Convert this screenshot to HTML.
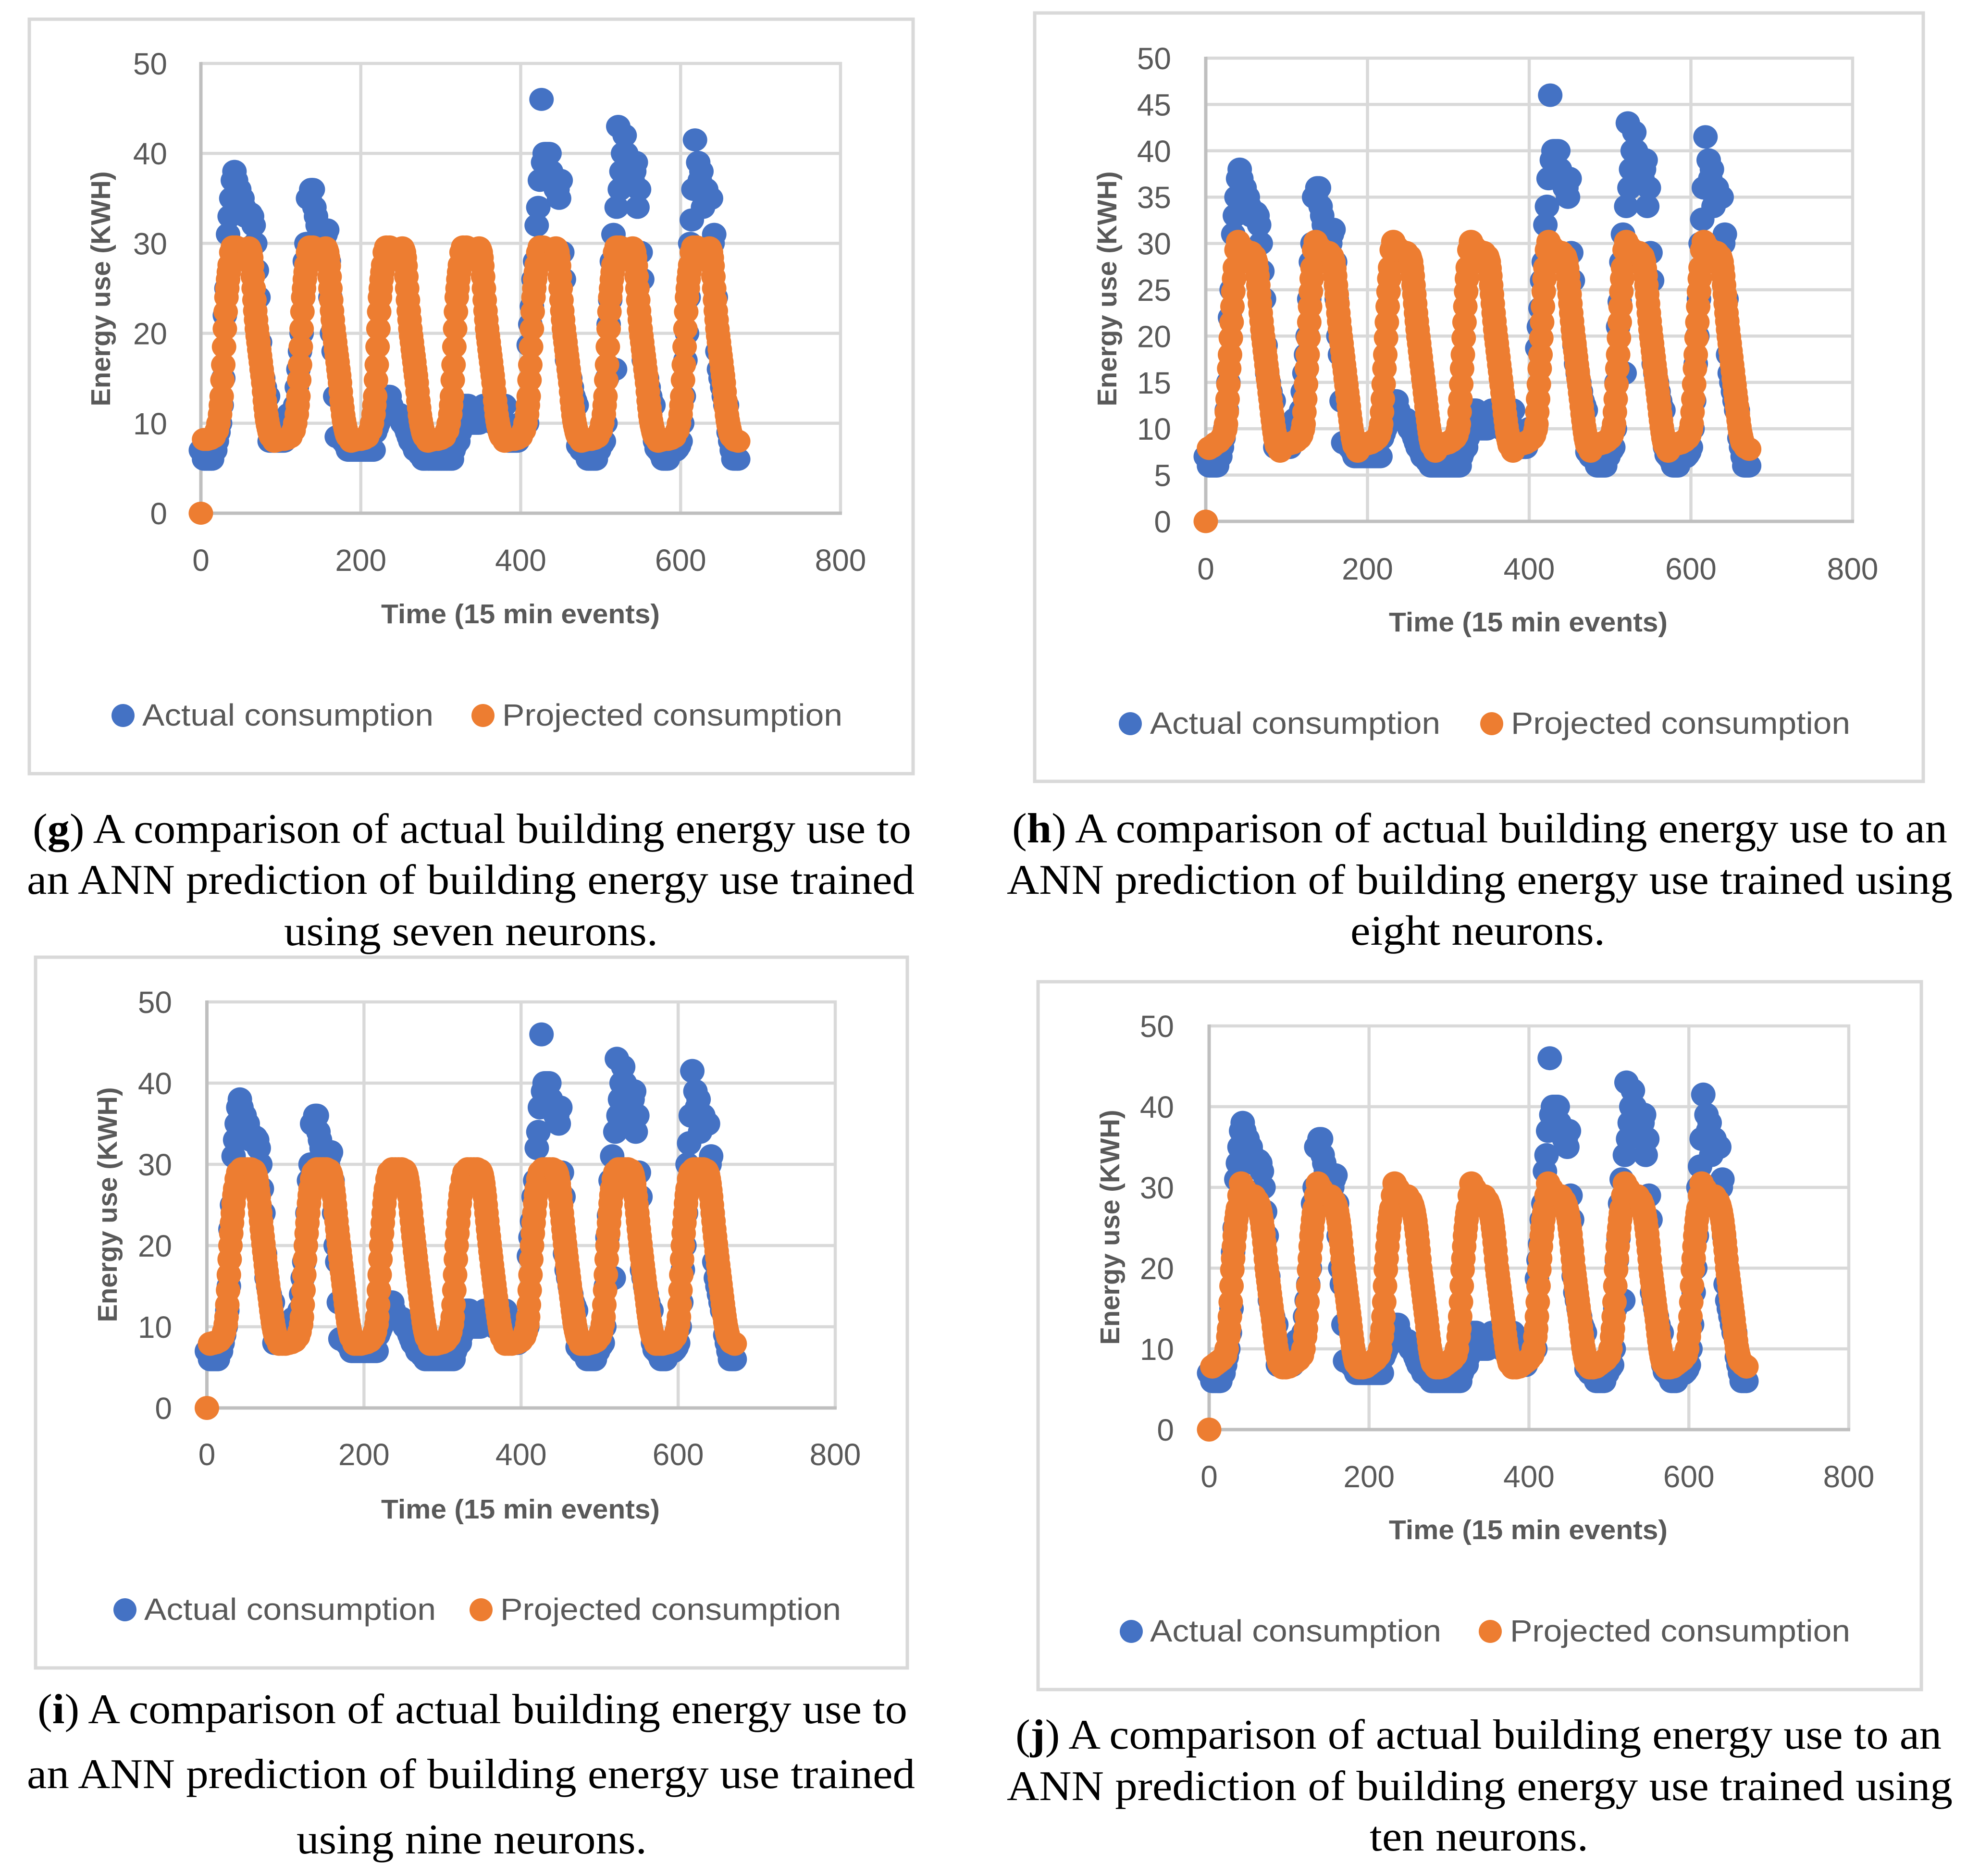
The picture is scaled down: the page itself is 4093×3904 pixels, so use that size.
<!DOCTYPE html>
<html lang="en">
<head>
<meta charset="utf-8">
<title>Actual vs projected building energy use</title>
<style>
html,body{margin:0;padding:0;background:#fff;width:4093px;height:3904px;overflow:hidden}
svg{display:block}
.leg{font-family:"Liberation Sans",sans-serif;font-size:64px;fill:#595959}
.cap{font-family:"Liberation Serif",serif;font-size:88px;fill:#000}
.cap tspan{font-weight:bold}
.tick{font-family:"Liberation Sans",sans-serif;font-size:64px;fill:#595959}
.ttl{font-family:"Liberation Sans",sans-serif;font-size:57px;font-weight:bold;fill:#595959}
</style>
</head>
<body>
<svg id="page" xmlns="http://www.w3.org/2000/svg" width="4093" height="3904" viewBox="0 0 4093 3904">
<rect width="4093" height="3904" fill="#fff"/>
<g id="chart-g"></g>
<g id="chart-h"></g>
<g id="chart-i"></g>
<g id="chart-j"></g>

<g>
<ellipse cx="256" cy="1489" rx="24" ry="24" fill="#4472c4"/>
<text class="leg" x="296" y="1510" textLength="606" lengthAdjust="spacingAndGlyphs">Actual consumption</text>
<ellipse cx="1005" cy="1489" rx="24" ry="24" fill="#ed7d31"/>
<text class="leg" x="1045" y="1510" textLength="708" lengthAdjust="spacingAndGlyphs">Projected consumption</text>
</g>
<g>
<ellipse cx="2352" cy="1506" rx="24" ry="24" fill="#4472c4"/>
<text class="leg" x="2393" y="1527" textLength="604" lengthAdjust="spacingAndGlyphs">Actual consumption</text>
<ellipse cx="3104" cy="1506" rx="24" ry="24" fill="#ed7d31"/>
<text class="leg" x="3144" y="1527" textLength="706" lengthAdjust="spacingAndGlyphs">Projected consumption</text>
</g>
<g>
<ellipse cx="260" cy="3350" rx="24" ry="24" fill="#4472c4"/>
<text class="leg" x="300" y="3371" textLength="607" lengthAdjust="spacingAndGlyphs">Actual consumption</text>
<ellipse cx="1001" cy="3350" rx="24" ry="24" fill="#ed7d31"/>
<text class="leg" x="1041" y="3371" textLength="709" lengthAdjust="spacingAndGlyphs">Projected consumption</text>
</g>
<g>
<ellipse cx="2354" cy="3395" rx="24" ry="24" fill="#4472c4"/>
<text class="leg" x="2393" y="3416" textLength="606" lengthAdjust="spacingAndGlyphs">Actual consumption</text>
<ellipse cx="3101" cy="3395" rx="24" ry="24" fill="#ed7d31"/>
<text class="leg" x="3142" y="3416" textLength="708" lengthAdjust="spacingAndGlyphs">Projected consumption</text>
</g>

<g>
<text class="cap" x="68" y="1754" textLength="1828" lengthAdjust="spacingAndGlyphs">(<tspan>g</tspan>) A comparison of actual building energy use to</text>
<text class="cap" x="56" y="1860" textLength="1847" lengthAdjust="spacingAndGlyphs">an ANN prediction of building energy use trained</text>
<text class="cap" x="591" y="1967" textLength="778" lengthAdjust="spacingAndGlyphs">using seven neurons.</text>
</g>
<g>
<text class="cap" x="2106" y="1753" textLength="1946" lengthAdjust="spacingAndGlyphs">(<tspan>h</tspan>) A comparison of actual building energy use to an</text>
<text class="cap" x="2095" y="1860" textLength="1968" lengthAdjust="spacingAndGlyphs">ANN prediction of building energy use trained using</text>
<text class="cap" x="2810" y="1966" textLength="530" lengthAdjust="spacingAndGlyphs">eight neurons.</text>
</g>
<g>
<text class="cap" x="78" y="3586" textLength="1810" lengthAdjust="spacingAndGlyphs">(<tspan>i</tspan>) A comparison of actual building energy use to</text>
<text class="cap" x="56" y="3721" textLength="1848" lengthAdjust="spacingAndGlyphs">an ANN prediction of building energy use trained</text>
<text class="cap" x="617" y="3857" textLength="729" lengthAdjust="spacingAndGlyphs">using nine neurons.</text>
</g>
<g>
<text class="cap" x="2113" y="3639" textLength="1927" lengthAdjust="spacingAndGlyphs">(<tspan>j</tspan>) A comparison of actual building energy use to an</text>
<text class="cap" x="2095" y="3746" textLength="1968" lengthAdjust="spacingAndGlyphs">ANN prediction of building energy use trained using</text>
<text class="cap" x="2850" y="3851" textLength="455" lengthAdjust="spacingAndGlyphs">ten neurons.</text>
</g>
</svg>

<script>
// Category axis for the actual series: one reading every two 15-min events (0..672).
const actualStep = 2;
const actualValues = [
7,7,6,6,6,6,6,6,7,7,8,9,10,12,15,22,25,31,33,35,37,38,37,36,36,35,35,34,33,33,33,33.3,33,32,30,27,24,19,16,15,14,13,13,8,8,8,8,8,
8,8,8,8,8,9,9,11,10,11,11,12,14,16,18,20,24,28,30,35,35,36,36,34,33,32,31,30,29,30,31,31.5,28,24,20,18,13,8.5,8.5,8.5,8.5,8,8,7.5,7,7,7,7,
7,7,7,7,7,7,7,7,7,7,7,7,7,9,9.5,10,10.5,11,11,11.5,12,13,13,12,11,11,11,11,11,10.5,10,10,9.5,9,8.5,8,8,7.5,7,7,7,6.5,6.5,6,6,6,6,6,
6,6,6,6,6,6,6,6,6,6,6,6,6,6,7,7.5,8,8,9,10,11,12,12,12,11,10,10,10,10,10,10,11,11,12,12,12,11,11,11,10,10,11,12,12,11.7,12,12,10,
8,8,8,8,8,8,8,9,10,10,9.5,10,10,18.7,21,23,26,28,32,34,37,46,39,40,40,40,40,38,37,37,36,36,35,37,29,26,19,17,16,15,14,13,12.5,12,7.5,7.5,7,7,
7,6.5,6,6,6,6,6,6,7,7,7.5,7.7,8,10,15,21,23.7,28,31,16,34,43,36,38,40,42,40,38,38,37,37,38,39,34,36,29,26,17,16,15,14,13,12.3,12,8,7.2,7,7,
6.5,6,6,6,6,6.5,7,7,7,7,7.2,7.5,8,10,13,17,20,24,30,32.6,36,41.5,36,39,37,38,34,35,36,35,35,35,30,31,24,18,16,15,14,13,12,12,9,8,7,6,6,6,6
];

// Times within each daily cycle (15-min events) at which the projected series was read.
const projectedCycleTimes = [0,4,8,12,16,20,22,24,25,26,27,28,29,30,31,32,33,34,35,36,38,40,44,48,52,56,60,61,62,63,64,65,66,67,68,69,70,71,72,73,74,75,76,77,78,79,80,81,82,83,84,85,86,87,88,92];
const cycleLength = 96;
const lastTime = 672;

const projectedSeven = [
0,8.2,8.2,8.3,8.5,9.2,10,11,12,13,14.8,16.5,18.5,20.5,22.4,24,25,26,26.8,27.6,29,29.6,29.6,29.3,29.2,29.4,29.5,29.3,29,28.4,27.5,26.3,25,23.7,22.5,21.5,20.5,19.7,19,18.2,17.5,16.8,16,15.3,14.5,13.5,12.5,11.7,10.9,10.3,9.8,9.4,9,8.7,8.5,8,
8.1,8.2,8.2,8.3,8.5,9.2,10,11,12,13,14.8,16.5,18.5,20.5,22.4,24,25,26,26.8,27.6,29,29.6,29.6,29.3,29.2,29.4,29.5,29.3,29,28.4,27.5,26.3,25,23.7,22.5,21.5,20.5,19.7,19,18.2,17.5,16.8,16,15.3,14.5,13.5,12.5,11.7,10.9,10.3,9.8,9.4,9,8.7,8.5,8,
8.1,8.2,8.2,8.3,8.5,9.2,10,11,12,13,14.8,16.5,18.5,20.5,22.4,24,25,26,26.8,27.6,29,29.6,29.6,29.3,29.2,29.4,29.5,29.3,29,28.4,27.5,26.3,25,23.7,22.5,21.5,20.5,19.7,19,18.2,17.5,16.8,16,15.3,14.5,13.5,12.5,11.7,10.9,10.3,9.8,9.4,9,8.7,8.5,8,
8.1,8.2,8.2,8.3,8.5,9.2,10,11,12,13,14.8,16.5,18.5,20.5,22.4,24,25,26,26.8,27.6,29,29.6,29.6,29.3,29.2,29.4,29.5,29.3,29,28.4,27.5,26.3,25,23.7,22.5,21.5,20.5,19.7,19,18.2,17.5,16.8,16,15.3,14.5,13.5,12.5,11.7,10.9,10.3,9.8,9.4,9,8.7,8.5,8,
8.1,8.2,8.2,8.3,8.5,9.2,10,11,12,13,14.8,16.5,18.5,20.5,22.4,24,25,26,26.8,27.6,29,29.6,29.6,29.3,29.2,29.4,29.5,29.3,29,28.4,27.5,26.3,25,23.7,22.5,21.5,20.5,19.7,19,18.2,17.5,16.8,16,15.3,14.5,13.5,12.5,11.7,10.9,10.3,9.8,9.4,9,8.7,8.5,8,
8.1,8.2,8.2,8.3,8.5,9.2,10,11,12,13,14.8,16.5,18.5,20.5,22.4,24,25,26,26.8,27.6,29,29.6,29.6,29.3,29.2,29.4,29.5,29.3,29,28.4,27.5,26.3,25,23.7,22.5,21.5,20.5,19.7,19,18.2,17.5,16.8,16,15.3,14.5,13.5,12.5,11.7,10.9,10.3,9.8,9.4,9,8.7,8.5,8,
8.1,8.2,8.2,8.3,8.5,9.2,10,11,12,13,14.8,16.5,18.5,20.5,22.4,24,25,26,26.8,27.6,29,29.6,29.6,29.3,29.2,29.4,29.5,29.3,29,28.4,27.5,26.3,25,23.7,22.5,21.5,20.5,19.7,19,18.2,17.5,16.8,16,15.3,14.5,13.5,12.5,11.7,10.9,10.3,9.8,9.4,9,8.7,8.5,8.1,
8
];
const projectedEight = [
0,7.9,8.1,8.4,8.6,9,9.3,9.9,10.5,11.8,13.2,14.8,16.5,18,19.8,21.5,23.2,24.8,26.2,27.4,29.3,30.2,29.6,29.2,29.1,29,28.6,28.3,28,27.3,26.5,25.5,24.5,23.5,22.5,21.6,20.7,19.9,19.2,18.4,17.7,16.9,16.2,15.4,14.7,13.9,13.2,12.4,11.6,10.9,10.2,9.6,9,8.6,8.2,7.6,
8.2,8.3,8.4,8.5,8.7,9,9.3,9.9,10.5,11.8,13.2,14.8,16.5,18,19.8,21.5,23.2,24.8,26.2,27.4,29.3,30.2,29.6,29.2,29.1,29,28.6,28.3,28,27.3,26.5,25.5,24.5,23.5,22.5,21.6,20.7,19.9,19.2,18.4,17.7,16.9,16.2,15.4,14.7,13.9,13.2,12.4,11.6,10.9,10.2,9.6,9,8.6,8.2,7.6,
8.2,8.3,8.4,8.5,8.7,9,9.3,9.9,10.5,11.8,13.2,14.8,16.5,18,19.8,21.5,23.2,24.8,26.2,27.4,29.3,30.2,29.6,29.2,29.1,29,28.6,28.3,28,27.3,26.5,25.5,24.5,23.5,22.5,21.6,20.7,19.9,19.2,18.4,17.7,16.9,16.2,15.4,14.7,13.9,13.2,12.4,11.6,10.9,10.2,9.6,9,8.6,8.2,7.6,
8.2,8.3,8.4,8.5,8.7,9,9.3,9.9,10.5,11.8,13.2,14.8,16.5,18,19.8,21.5,23.2,24.8,26.2,27.4,29.3,30.2,29.6,29.2,29.1,29,28.6,28.3,28,27.3,26.5,25.5,24.5,23.5,22.5,21.6,20.7,19.9,19.2,18.4,17.7,16.9,16.2,15.4,14.7,13.9,13.2,12.4,11.6,10.9,10.2,9.6,9,8.6,8.2,7.6,
8.2,8.3,8.4,8.5,8.7,9,9.3,9.9,10.5,11.8,13.2,14.8,16.5,18,19.8,21.5,23.2,24.8,26.2,27.4,29.3,30.2,29.6,29.2,29.1,29,28.6,28.3,28,27.3,26.5,25.5,24.5,23.5,22.5,21.6,20.7,19.9,19.2,18.4,17.7,16.9,16.2,15.4,14.7,13.9,13.2,12.4,11.6,10.9,10.2,9.6,9,8.6,8.2,7.6,
8.2,8.3,8.4,8.5,8.7,9,9.3,9.9,10.5,11.8,13.2,14.8,16.5,18,19.8,21.5,23.2,24.8,26.2,27.4,29.3,30.2,29.6,29.2,29.1,29,28.6,28.3,28,27.3,26.5,25.5,24.5,23.5,22.5,21.6,20.7,19.9,19.2,18.4,17.7,16.9,16.2,15.4,14.7,13.9,13.2,12.4,11.6,10.9,10.2,9.6,9,8.6,8.2,7.6,
8.2,8.3,8.4,8.5,8.7,9,9.3,9.9,10.5,11.8,13.2,14.8,16.5,18,19.8,21.5,23.2,24.8,26.2,27.4,29.3,30.2,29.6,29.2,29.1,29,28.6,28.3,28,27.3,26.5,25.5,24.5,23.5,22.5,21.6,20.7,19.9,19.2,18.4,17.7,16.9,16.2,15.4,14.7,13.9,13.2,12.4,11.6,10.9,10.2,9.6,9.2,8.8,8.5,8,
7.8
];
const projectedNine = [
0,7.9,8,8.1,8.3,8.8,9.4,10.3,11.2,12.7,14.5,16.4,18.3,20,21.5,22.8,24,25.2,26.2,27,28.2,29,29.4,29.4,29.4,29.4,29.2,29,28.7,28.2,27.6,26.8,26,25,24,23,22,21.1,20.2,19.3,18.5,17.6,16.8,16,15.2,14.4,13.6,12.8,12,11.3,10.6,10,9.5,9.1,8.7,7.9,
7.9,7.9,8,8.1,8.3,8.8,9.4,10.3,11.2,12.7,14.5,16.4,18.3,20,21.5,22.8,24,25.2,26.2,27,28.2,29,29.4,29.4,29.4,29.4,29.2,29,28.7,28.2,27.6,26.8,26,25,24,23,22,21.1,20.2,19.3,18.5,17.6,16.8,16,15.2,14.4,13.6,12.8,12,11.3,10.6,10,9.5,9.1,8.7,7.9,
7.9,7.9,8,8.1,8.3,8.8,9.4,10.3,11.2,12.7,14.5,16.4,18.3,20,21.5,22.8,24,25.2,26.2,27,28.2,29,29.4,29.4,29.4,29.4,29.2,29,28.7,28.2,27.6,26.8,26,25,24,23,22,21.1,20.2,19.3,18.5,17.6,16.8,16,15.2,14.4,13.6,12.8,12,11.3,10.6,10,9.5,9.1,8.7,7.9,
7.9,7.9,8,8.1,8.3,8.8,9.4,10.3,11.2,12.7,14.5,16.4,18.3,20,21.5,22.8,24,25.2,26.2,27,28.2,29,29.4,29.4,29.4,29.4,29.2,29,28.7,28.2,27.6,26.8,26,25,24,23,22,21.1,20.2,19.3,18.5,17.6,16.8,16,15.2,14.4,13.6,12.8,12,11.3,10.6,10,9.5,9.1,8.7,7.9,
7.9,7.9,8,8.1,8.3,8.8,9.4,10.3,11.2,12.7,14.5,16.4,18.3,20,21.5,22.8,24,25.2,26.2,27,28.2,29,29.4,29.4,29.4,29.4,29.2,29,28.7,28.2,27.6,26.8,26,25,24,23,22,21.1,20.2,19.3,18.5,17.6,16.8,16,15.2,14.4,13.6,12.8,12,11.3,10.6,10,9.5,9.1,8.7,7.9,
7.9,7.9,8,8.1,8.3,8.8,9.4,10.3,11.2,12.7,14.5,16.4,18.3,20,21.5,22.8,24,25.2,26.2,27,28.2,29,29.4,29.4,29.4,29.4,29.2,29,28.7,28.2,27.6,26.8,26,25,24,23,22,21.1,20.2,19.3,18.5,17.6,16.8,16,15.2,14.4,13.6,12.8,12,11.3,10.6,10,9.5,9.1,8.7,7.9,
7.9,7.9,8,8.1,8.3,8.8,9.4,10.3,11.2,12.7,14.5,16.4,18.3,20,21.5,22.8,24,25.2,26.2,27,28.2,29,29.4,29.4,29.4,29.4,29.2,29,28.7,28.2,27.6,26.8,26,25,24,23,22,21.1,20.2,19.3,18.5,17.6,16.8,16,15.2,14.4,13.6,12.8,12,11.3,10.6,10,9.5,9.1,8.7,8.1,
7.9
];
const projectedTen = [
0,7.8,8.1,8.4,8.7,9.2,10,11.5,12.5,14,15.8,17.8,19.8,21.2,22.7,24,25,26,26.8,27.4,29,30.5,29.8,29.2,29,28.9,28.3,28,27.8,27.4,27,26.4,25.8,25,24.2,23.2,22.2,21.1,20,19.2,18.4,17.6,16.8,16,15.2,14.4,13.6,12.7,11.8,11,10.2,9.6,9,8.6,8.2,7.7,
7.7,7.8,8.1,8.4,8.7,9.2,10,11.5,12.5,14,15.8,17.8,19.8,21.2,22.7,24,25,26,26.8,27.4,29,30.5,29.8,29.2,29,28.9,28.3,28,27.8,27.4,27,26.4,25.8,25,24.2,23.2,22.2,21.1,20,19.2,18.4,17.6,16.8,16,15.2,14.4,13.6,12.7,11.8,11,10.2,9.6,9,8.6,8.2,7.7,
7.7,7.8,8.1,8.4,8.7,9.2,10,11.5,12.5,14,15.8,17.8,19.8,21.2,22.7,24,25,26,26.8,27.4,29,30.5,29.8,29.2,29,28.9,28.3,28,27.8,27.4,27,26.4,25.8,25,24.2,23.2,22.2,21.1,20,19.2,18.4,17.6,16.8,16,15.2,14.4,13.6,12.7,11.8,11,10.2,9.6,9,8.6,8.2,7.7,
7.7,7.8,8.1,8.4,8.7,9.2,10,11.5,12.5,14,15.8,17.8,19.8,21.2,22.7,24,25,26,26.8,27.4,29,30.5,29.8,29.2,29,28.9,28.3,28,27.8,27.4,27,26.4,25.8,25,24.2,23.2,22.2,21.1,20,19.2,18.4,17.6,16.8,16,15.2,14.4,13.6,12.7,11.8,11,10.2,9.6,9,8.6,8.2,7.7,
7.7,7.8,8.1,8.4,8.7,9.2,10,11.5,12.5,14,15.8,17.8,19.8,21.2,22.7,24,25,26,26.8,27.4,29,30.5,29.8,29.2,29,28.9,28.3,28,27.8,27.4,27,26.4,25.8,25,24.2,23.2,22.2,21.1,20,19.2,18.4,17.6,16.8,16,15.2,14.4,13.6,12.7,11.8,11,10.2,9.6,9,8.6,8.2,7.7,
7.7,7.8,8.1,8.4,8.7,9.2,10,11.5,12.5,14,15.8,17.8,19.8,21.2,22.7,24,25,26,26.8,27.4,29,30.5,29.8,29.2,29,28.9,28.3,28,27.8,27.4,27,26.4,25.8,25,24.2,23.2,22.2,21.1,20,19.2,18.4,17.6,16.8,16,15.2,14.4,13.6,12.7,11.8,11,10.2,9.6,9,8.6,8.2,7.7,
7.7,7.8,8.1,8.4,8.7,9.2,10,11.5,12.5,14,15.8,17.8,19.8,21.2,22.7,24,25,26,26.8,27.4,29,30.5,29.8,29.2,29,28.9,28.3,28,27.8,27.4,27,26.4,25.8,25,24.2,23.2,22.2,21.1,20,19.2,18.4,17.6,16.8,16,15.2,14.4,13.6,12.7,11.8,11,10.2,9.6,9.2,8.8,8.5,8.1,
7.8
];

const xTickValues = [0,200,400,600,800];
const yTicksByTens = [0,10,20,30,40,50];
const yTicksByFives = [0,5,10,15,20,25,30,35,40,45,50];
const xTitleText = 'Time (15 min events)';
const yTitleText = 'Energy use (KWH)';
const xMax = 800;
const yMax = 50;

const NS = 'http://www.w3.org/2000/svg';
function make(tag, parent, attrs) {
  const el = document.createElementNS(NS, tag);
  for (const k in attrs) el.setAttribute(k, attrs[k]);
  parent.appendChild(el);
  return el;
}

function drawChart(id, layout, yTicks, projected) {
  const root = document.getElementById(id);
  const xScale = t => layout.left + (t / xMax) * (layout.right - layout.left);
  const yScale = v => layout.bottom - (v / yMax) * (layout.bottom - layout.top);

  const frame = make('rect', root, {x: layout.fx0, y: layout.fy0, width: layout.fx1 - layout.fx0, height: layout.fy1 - layout.fy0, fill: '#fff', stroke: '#d9d9d9', 'stroke-width': 7});
  
  

  yTicks.forEach(v => {
    if (v === 0) return;
    const line = make('line', root, {x1: layout.left, x2: layout.right + 3, y1: yScale(v), y2: yScale(v), stroke: '#d9d9d9', 'stroke-width': 6.5});
    
    
  });
  xTickValues.forEach(t => {
    if (t === 0) return;
    const line = make('line', root, {x1: xScale(t), x2: xScale(t), y1: layout.top - 3, y2: layout.bottom, stroke: '#d9d9d9', 'stroke-width': 6.5});
    
    
  });
  const xAxis = make('line', root, {x1: layout.left, x2: layout.right + 3, y1: yScale(0), y2: yScale(0), stroke: '#bfbfbf', 'stroke-width': 7});
  
  
  const yAxis = make('line', root, {x1: xScale(0), x2: xScale(0), y1: layout.top - 3, y2: layout.bottom, stroke: '#bfbfbf', 'stroke-width': 7});
  
  

  yTicks.forEach(v => {
    const label = make('text', root, {class: 'tick', x: layout.yLabelRight, y: yScale(v) + 23, 'text-anchor': 'end'});
    label.textContent = String(v);
    
    
  });
  xTickValues.forEach(t => {
    const label = make('text', root, {class: 'tick', x: xScale(t), y: layout.xLabelY + 23, 'text-anchor': 'middle'});
    label.textContent = String(t);
    
    
  });

  const xTitle = make('text', root, {class: 'ttl', x: layout.xTitleX - 290, y: layout.xTitleY + 20, textLength: 580, lengthAdjust: 'spacingAndGlyphs'});
  xTitle.textContent = xTitleText;
  
  

  const yTitle = make('text', root, {class: 'ttl', x: 0, y: 0, textLength: 489, lengthAdjust: 'spacingAndGlyphs', transform: 'translate(' + (layout.yTitleX + 20) + ',' + (layout.yTitleY + 244.5) + ') rotate(-90)'});
  yTitle.textContent = yTitleText;
  
  

  const actualGroup = make('g', root, {fill: '#4472c4'});
  
  
  actualValues.forEach((v, i) => {
    const dot = make('ellipse', actualGroup, {cx: xScale(i * actualStep), cy: yScale(v), rx: 25.5, ry: layout.ry});
    
    
  });

  const projectedGroup = make('g', root, {fill: '#ed7d31'});
  
  
  projected.forEach((v, i) => {
    const n = projectedCycleTimes.length;
    const t = i < projected.length - 1
      ? Math.floor(i / n) * cycleLength + projectedCycleTimes[i % n]
      : lastTime;
    const dot = make('ellipse', projectedGroup, {cx: xScale(t), cy: yScale(v), rx: 25.5, ry: layout.ry});
    
    
  });
}

drawChart('chart-g', {fx0: 61, fy0: 40, fx1: 1900, fy1: 1610, left: 418, right: 1749, top: 132, bottom: 1068, ry: 24, yLabelRight: 348, xLabelY: 1165, xTitleX: 1083, xTitleY: 1277, yTitleX: 209, yTitleY: 601}, yTicksByTens, projectedSeven);
drawChart('chart-h', {fx0: 2153, fy0: 27, fx1: 4002, fy1: 1626, left: 2509, right: 3855, top: 121, bottom: 1085, ry: 24.5, yLabelRight: 2437, xLabelY: 1183, xTitleX: 3180, xTitleY: 1294, yTitleX: 2303, yTitleY: 601}, yTicksByFives, projectedEight);
drawChart('chart-i', {fx0: 74, fy0: 1992, fx1: 1888, fy1: 3471, left: 430.5, right: 1738, top: 2085, bottom: 2930, ry: 25, yLabelRight: 358, xLabelY: 3026, xTitleX: 1083, xTitleY: 3140, yTitleX: 223, yTitleY: 2507}, yTicksByTens, projectedNine);
drawChart('chart-j', {fx0: 2160, fy0: 2043, fx1: 3998, fy1: 3516, left: 2516, right: 3847, top: 2135, bottom: 2975, ry: 25, yLabelRight: 2443, xLabelY: 3072, xTitleX: 3180, xTitleY: 3183, yTitleX: 2309, yTitleY: 2554}, yTicksByTens, projectedTen);
</script>
</body>
</html>
